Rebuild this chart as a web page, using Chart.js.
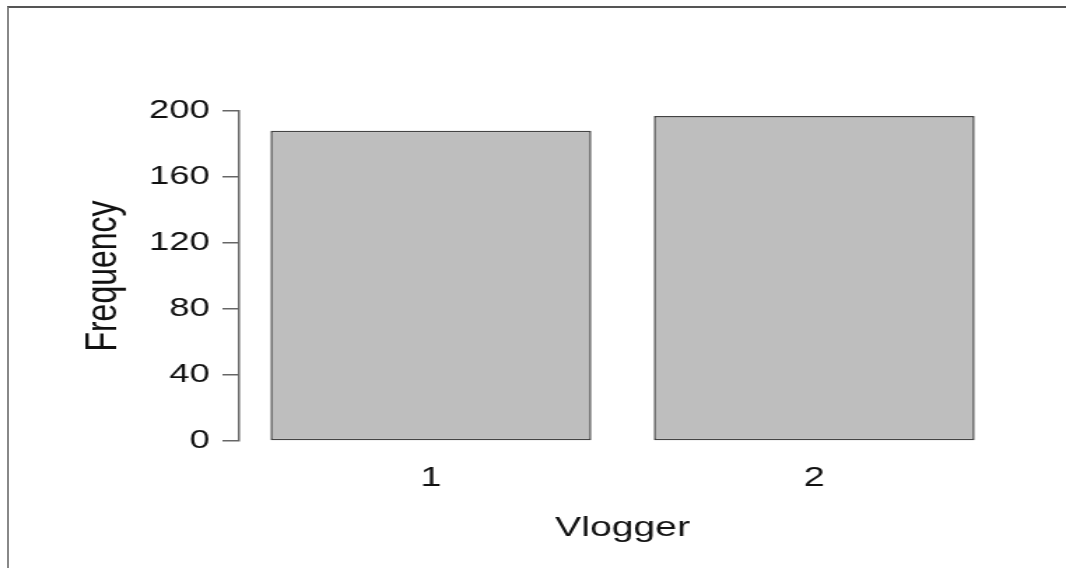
<!doctype html>
<html lang="en">
<head>
    <meta charset="UTF-8">
    <title>Vlogger</title>
    <script src="https://cdn.jsdelivr.net/npm/chart.js"></script>
    <style>
        html, body { margin: 0; padding: 0; background: #fff; overflow: hidden; }
        #frame {
            position: absolute; left: 7px; top: 6px; width: 1100px; height: 600px;
            border-top: 2px solid #555; border-left: 2px solid #888;
        }
        /* the original plot is stretched sideways, so the chart is drawn narrow and scaled */
        #wrap {
            position: absolute; left: 0; top: 0; width: 762px; height: 568px;
            transform: scaleX(1.399); transform-origin: 0 0;
        }
    </style>
</head>
<body>
    <div id="frame"></div>
    <div id="wrap"><canvas id="bars" width="762" height="568"></canvas></div>

    <script>
        // data
        const categories = ['1', '2'];
        const frequencies = [188, 197];
        const yTicks = [0, 40, 80, 120, 160, 200];

        const font = "'Liberation Sans', Arial, sans-serif";

        new Chart(document.getElementById('bars'), {
            type: 'bar',
            data: {
                labels: categories,
                datasets: [{
                    data: frequencies,
                    backgroundColor: '#bebebe',
                    borderColor: '#444',
                    borderWidth: 1.5,
                    borderSkipped: false,
                    barPercentage: 0.837,
                    categoryPercentage: 1
                }]
            },
            options: {
                responsive: false,
                animation: false,
                layout: { padding: { top: 111, right: 43, left: 0, bottom: 0 } },
                plugins: { legend: { display: false }, tooltip: { enabled: false } },
                scales: {
                    x: {
                        grid: { display: false, drawTicks: false },
                        border: { display: false },
                        ticks: { color: '#111', font: { family: font, size: 27 }, padding: 21 },
                        title: {
                            display: true, text: 'Vlogger', color: '#111',
                            font: { family: font, size: 28 }, padding: { top: 0, bottom: 23 }
                        },
                        afterFit: s => { s.height = 127; }
                    },
                    y: {
                        min: 0, max: 200,
                        afterBuildTicks: s => { s.ticks = yTicks.map(v => ({ value: v })); },
                        grid: { drawOnChartArea: false, drawTicks: true, tickLength: 12, color: '#666', lineWidth: 1.5 },
                        border: { display: true, color: '#666', width: 1.5 },
                        ticks: { color: '#111', font: { family: font, size: 26 }, padding: 9 },
                        title: {
                            display: true, text: 'Frequency', color: '#111',
                            font: { family: font, size: 32 }, padding: { top: 55, bottom: 0 }
                        },
                        afterFit: s => { s.width = 171; }
                    }
                }
            }
        });
    </script>
</body>
</html>
